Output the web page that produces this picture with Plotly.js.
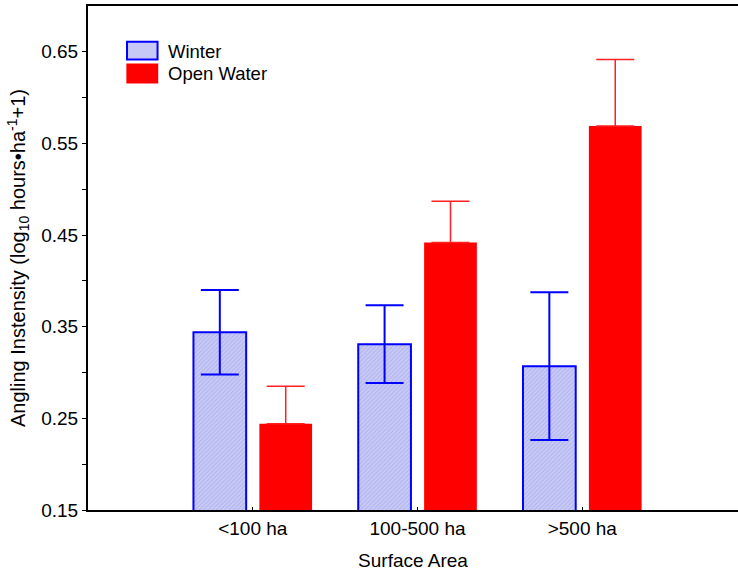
<!DOCTYPE html>
<html>
<head>
<meta charset="utf-8">
<script src="https://cdn.plot.ly/plotly-3.0.1.min.js"></script>
<style>html,body{margin:0;padding:0;background:#fff;}#chart{width:738px;height:571px;}</style>
</head>
<body>
<div id="chart"></div>
<script>
const categories = ['<100 ha', '100-500 ha', '>500 ha'];
const winterValues = [0.344, 0.331, 0.307];
const winterErrors = [0.046, 0.0425, 0.0805];
const openWaterValues = [0.244, 0.442, 0.569];
const openWaterErrors = [0.041, 0.045, 0.0725];
const yTickVals = [0.15, 0.25, 0.35, 0.45, 0.55, 0.65];
const yTickText = ['0.15', '0.25', '0.35', '0.45', '0.55', '0.65'];
const yMinorTickVals = [0.20, 0.30, 0.40, 0.50, 0.60];
const seriesNames = ['Winter', 'Open Water'];

const FONT = 'Liberation Sans, Arial, sans-serif';

const traces = [
  {
    type: 'bar', name: seriesNames[0], x: categories, y: winterValues,
    marker: {
      color: '#c6c8f5',
      line: {color: '#0000ff', width: 2},
      pattern: {shape: '/', fgcolor: '#aeb0ec', bgcolor: '#c8caf6', size: 3, solidity: 0.3}
    },
    error_y: {type: 'data', array: winterErrors, visible: true, color: '#0000ff', thickness: 2, width: 19},
    showlegend: false
  },
  {
    type: 'bar', name: seriesNames[1], x: categories, y: openWaterValues,
    marker: {color: '#ff0000', line: {width: 0}},
    error_y: {type: 'data', symmetric: false, array: openWaterErrors, arrayminus: openWaterErrors.map(() => 0), visible: true, color: '#ff2020', thickness: 1.5, width: 19},
    showlegend: false
  }
];

const layout = {
  width: 738, height: 571,
  margin: {l: 88, r: 0, t: 6, b: 61},
  paper_bgcolor: '#fff', plot_bgcolor: '#fff',
  font: {family: FONT, size: 19, color: '#000'},
  barmode: 'group', bargap: 0.2, bargroupgap: 0.2,
  xaxis: {
    type: 'category', range: [-1, 2.945],
    showline: true, linecolor: '#000', linewidth: 2, mirror: true,
    ticks: 'inside', ticklen: 3, tickwidth: 1, tickcolor: '#000',
    showgrid: false, zeroline: false,
    tickfont: {family: FONT, size: 19, color: '#000'},
    title: {text: 'Surface Area', font: {family: FONT, size: 19, color: '#000'}, standoff: 16}
  },
  yaxis: {
    range: [0.15, 0.7],
    tickvals: yTickVals, ticktext: yTickText,
    minor: {tickvals: yMinorTickVals, ticks: 'outside', ticklen: 4, tickwidth: 1, tickcolor: '#000', showgrid: false},
    showline: true, linecolor: '#000', linewidth: 2,
    ticks: 'outside', ticklen: 4, tickwidth: 1, tickcolor: '#000',
    showgrid: false, zeroline: false,
    tickfont: {family: FONT, size: 19, color: '#000'},
    title: {text: 'Angling Instensity (log<sub>10</sub> hours•ha<sup>-1</sup>+1)', font: {family: FONT, size: 20, color: '#000'}, standoff: 10}
  },
  shapes: [
    {type: 'rect', xref: 'paper', yref: 'paper', x0: 0.060, x1: 0.107, y0: 0.894, y1: 0.929,
     line: {color: '#0000ff', width: 2}, fillcolor: '#c6c8f5'},
    {type: 'rect', xref: 'paper', yref: 'paper', x0: 0.059, x1: 0.108, y0: 0.846, y1: 0.886,
     line: {width: 0}, fillcolor: '#ff0000'}
  ],
  annotations: [
    {xref: 'paper', yref: 'paper', x: 0.12, y: 0.910, xanchor: 'left', yanchor: 'middle', showarrow: false,
     text: seriesNames[0], font: {family: FONT, size: 18.5, color: '#000'}},
    {xref: 'paper', yref: 'paper', x: 0.12, y: 0.867, xanchor: 'left', yanchor: 'middle', showarrow: false,
     text: seriesNames[1], font: {family: FONT, size: 18.5, color: '#000'}}
  ]
};

Plotly.newPlot('chart', traces, layout, {displayModeBar: false, staticPlot: true});
</script>
</body>
</html>
